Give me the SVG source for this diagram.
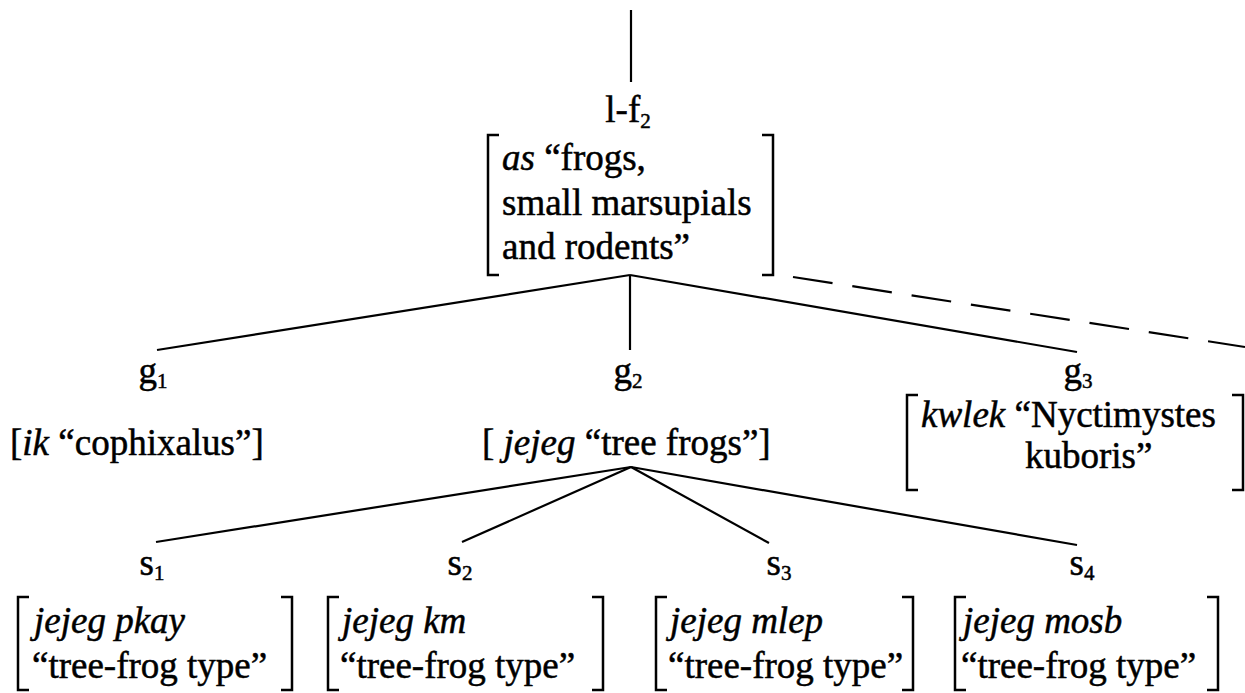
<svg xmlns="http://www.w3.org/2000/svg" width="1245" height="693" viewBox="0 0 1245 693">
  <style>
    text { font-family: "Liberation Serif", "Times New Roman", serif; font-size: 37px; fill: #000; stroke: #000; stroke-width: 0.5; }
    .it { font-style: italic; }
    .sub { font-size: 21px; }
    .br { fill: none; stroke: #000; stroke-width: 2.5; }
    .edge { fill: none; stroke: #000; stroke-width: 2.2; }
    .dash { stroke-dasharray: 40 20; }
  </style>
  <rect width="1245" height="693" fill="#fff"/>

  <!-- tree edges -->
  <g id="connectors">
    <line class="edge" x1="631" y1="10" x2="631" y2="82"/>
    <line class="edge" x1="630" y1="275" x2="157" y2="350"/>
    <line class="edge" x1="630" y1="275" x2="630" y2="350"/>
    <line class="edge" x1="630" y1="275" x2="1077" y2="352"/>
    <line class="edge dash" x1="793" y1="277" x2="1245" y2="347"/>
    <line class="edge" x1="631" y1="467" x2="156" y2="542"/>
    <line class="edge" x1="631" y1="467" x2="462" y2="542"/>
    <line class="edge" x1="631" y1="467" x2="769" y2="543"/>
    <line class="edge" x1="631" y1="467" x2="1077" y2="545"/>
  </g>

  <!-- l-f2 -->
  <g id="lf2">
    <text x="628" y="122" text-anchor="middle">l-f<tspan class="sub" dy="6">2</tspan></text>
    <path class="br" d="M499,135 H488 V275 H499"/>
    <path class="br" d="M762,135 H773 V275 H762"/>
    <text x="502" y="170"><tspan class="it">as</tspan> “frogs,</text>
    <text x="502" y="215">small marsupials</text>
    <text x="502" y="259">and rodents”</text>
  </g>

  <!-- g1 -->
  <g id="g1">
    <text x="153" y="383" text-anchor="middle">g<tspan class="sub" dy="5">1</tspan></text>
    <text x="10" y="455">[<tspan class="it">ik</tspan> “cophixalus”]</text>
  </g>

  <!-- g2 -->
  <g id="g2">
    <text x="628" y="383" text-anchor="middle">g<tspan class="sub" dy="5">2</tspan></text>
    <text x="482" y="455">[ <tspan class="it">jejeg</tspan> “tree frogs”]</text>
  </g>

  <!-- g3 -->
  <g id="g3">
    <text x="1078" y="383" text-anchor="middle">g<tspan class="sub" dy="5">3</tspan></text>
    <path class="br" d="M918,395 H907 V490 H918"/>
    <path class="br" d="M1232,395 H1243 V490 H1232"/>
    <text x="921" y="427"><tspan class="it">kwlek</tspan> “Nyctimystes</text>
    <text x="1025" y="468">kuboris”</text>
  </g>

  <!-- s1 -->
  <g id="s1">
    <text x="152" y="575" text-anchor="middle">s<tspan class="sub" dy="5">1</tspan></text>
    <path class="br" d="M29,597 H18 V690 H29"/>
    <path class="br" d="M281,597 H292 V690 H281"/>
    <text x="34" y="633" class="it">jejeg pkay</text>
    <text x="32" y="678">“tree-frog type”</text>
  </g>

  <!-- s2 -->
  <g id="s2">
    <text x="460" y="575" text-anchor="middle">s<tspan class="sub" dy="5">2</tspan></text>
    <path class="br" d="M339,597 H328 V690 H339"/>
    <path class="br" d="M592,597 H603 V690 H592"/>
    <text x="342" y="633" class="it">jejeg km</text>
    <text x="340" y="678">“tree-frog type”</text>
  </g>

  <!-- s3 -->
  <g id="s3">
    <text x="779" y="575" text-anchor="middle">s<tspan class="sub" dy="5">3</tspan></text>
    <path class="br" d="M667,597 H656 V690 H667"/>
    <path class="br" d="M902,597 H913 V690 H902"/>
    <text x="670" y="633" class="it">jejeg mlep</text>
    <text x="668" y="678">“tree-frog type”</text>
  </g>

  <!-- s4 -->
  <g id="s4">
    <text x="1082" y="575" text-anchor="middle">s<tspan class="sub" dy="5">4</tspan></text>
    <path class="br" d="M966,597 H955 V690 H966"/>
    <path class="br" d="M1207,597 H1218 V690 H1207"/>
    <text x="963" y="633" class="it">jejeg mosb</text>
    <text x="961" y="678">“tree-frog type”</text>
  </g>
</svg>
